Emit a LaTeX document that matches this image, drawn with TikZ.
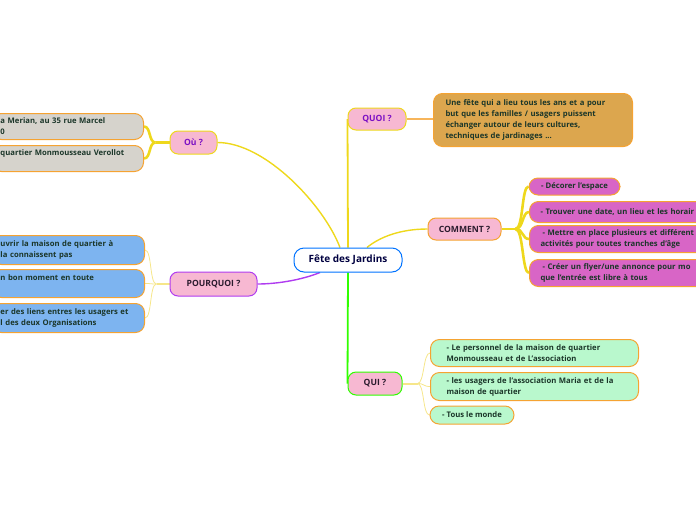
\documentclass[tikz,border=0pt]{standalone}
\usepackage{fontspec}
\setmainfont{Open Sans}
\definecolor{pinkbox}{HTML}{F7B8D2}
\definecolor{leafline}{HTML}{F5A332}
\definecolor{leaftext}{HTML}{1B3629}
\definecolor{branchyellow}{HTML}{EED81C}
\definecolor{paleyellow}{HTML}{F6E68A}
\definecolor{topicpurple}{HTML}{7B10C4}
\definecolor{topicdark}{HTML}{2B1B2E}
\definecolor{quoifill}{HTML}{DCA64E}
\definecolor{commentfill}{HTML}{D865C6}
\definecolor{quifill}{HTML}{B9F8CD}
\definecolor{oufill}{HTML}{D6D3CC}
\definecolor{pourquoifill}{HTML}{7DB4F0}
\definecolor{pourquoiline}{HTML}{B03CF0}
\pgfdeclarelayer{bg}
\pgfsetlayers{bg,main}
\begin{document}
\begin{tikzpicture}[x=1pt,y=-1pt,
    centre/.style={draw=blue!55!cyan, line width=1pt, fill=white, rounded corners=10pt,
        minimum width=108pt, minimum height=24pt, inner sep=0pt, text=blue!25!black,
        font=\fontsize{10}{12}\selectfont\bfseries},
    topic/.style={fill=pinkbox, line width=1pt, rounded corners=8pt, inner sep=0pt,
        font=\fontsize{8.6}{10}\selectfont\bfseries},
    leaf/.style={draw=leafline, line width=1pt, rounded corners=9pt, inner ysep=0pt,
        text=leaftext, font=\fontsize{7.7}{11}\selectfont\bfseries},
    multi/.style={leaf, anchor=north west, align=left},
    thickbranch/.style={branchyellow, line width=2.6pt},
    thinbranch/.style={paleyellow, line width=0.8pt}]
\useasboundingbox (0,0) rectangle (696,520);

\node[centre] (fete) at (348,260) {Fête des Jardins};

\node[topic, draw=branchyellow, text=topicpurple, minimum width=58pt, minimum height=22pt] (quoi) at (377,119) {QUOI ?};
\node[topic, draw=leafline, text=topicdark, minimum width=73pt, minimum height=22pt] (comment) at (464.5,229) {COMMENT ?};
\node[topic, draw=green!75!lime, text=topicdark, minimum width=54pt, minimum height=23pt] (qui) at (375,383.5) {QUI ?};
\node[topic, draw=branchyellow, text=topicpurple, minimum width=47pt, minimum height=23pt] (ou) at (193.5,142.5) {Où ?};
\node[topic, draw=pourquoiline, text=topicdark, minimum width=87pt, minimum height=24pt] (pourquoi) at (213.5,284) {POURQUOI ?};

% QUOI
\node[multi, fill=quoifill, inner xsep=12pt, text width=175pt, minimum height=53pt] (q0) at (433,93)
    {Une fête qui a lieu tous les ans et a pour\\but que les familles / usagers puissent\\échanger autour de leurs cultures,\\techniques de jardinages ...};

% COMMENT
\node[leaf, fill=commentfill, minimum width=91pt, minimum height=17pt] (c1) at (574.5,186.5) {- Décorer l'espace};
\node[multi, fill=commentfill, inner xsep=11pt, text width=200pt, minimum height=21pt] (c2) at (529,201)
    {- Trouver une date, un lieu et les horair};
\node[multi, fill=commentfill, inner xsep=11pt, text width=200pt, minimum height=27pt] (c3) at (529,225)
    {\hspace*{2pt}- Mettre en place plusieurs et différent\\activités pour toutes tranches d'âge};
\node[multi, fill=commentfill, inner xsep=11pt, text width=200pt, minimum height=27pt] (c4) at (529,259)
    {\hspace*{2pt}- Créer un flyer/une annonce pour mo\\que l'entrée est libre à tous};

% QUI
\node[multi, fill=quifill, inner xsep=16pt, text width=176pt, minimum height=27pt] (k1) at (430,339)
    {- Le personnel de la maison de quartier\\Monmousseau et de L'association};
\node[multi, fill=quifill, inner xsep=16pt, text width=176pt, minimum height=28pt] (k2) at (430,372)
    {- les usagers de l'association Maria et de la\\maison de quartier};
\node[leaf, fill=quifill, minimum width=84pt, minimum height=18pt] (k3) at (472,415) {- Tous le monde};

% OU
\node[multi, fill=oufill, inner xsep=8pt, text width=135pt, minimum height=26pt] (o1) at (-8,113)
    {a Merian, au 35 rue Marcel\\0};
\node[multi, fill=oufill, inner xsep=8pt, text width=135pt, minimum height=26pt] (o2) at (-8,145)
    {quartier Monmousseau Verollot\\\phantom{x}};

% POURQUOI
\node[multi, fill=pourquoifill, inner xsep=8pt, text width=136pt, minimum height=29pt] (p1) at (-8,235)
    {uvrir la maison de quartier à\\la connaissent pas};
\node[multi, fill=pourquoifill, inner xsep=8pt, text width=136pt, minimum height=28pt] (p2) at (-8,269)
    {n bon moment en toute\\\phantom{x}};
\node[multi, fill=pourquoifill, inner xsep=8pt, text width=136pt, minimum height=29pt] (p3) at (-8,303)
    {er des liens entres les usagers et\\l des deux Organisations};

\begin{pgfonlayer}{bg}
% main branches
\draw[branchyellow, line width=1.8pt] (fete.north) -- (quoi.west);
\draw[green!75!lime, line width=1.8pt] (fete.south) -- (qui.west);
\draw[branchyellow, line width=1.4pt] ([xshift=-8pt]fete.north) .. controls +(-16,-42) and +(48,0) .. (ou.east);
\draw[branchyellow, line width=1.4pt] ([xshift=19pt]fete.north) .. controls +(12,-10) and +(-28,0) .. (comment.west);
\draw[pourquoiline, line width=1.4pt] ([xshift=-28pt]fete.south) .. controls +(-20,8) and +(18,0) .. (pourquoi.east);

\draw[leafline!80!white, line width=2pt] (quoi.east) -- (q0.west |- quoi.east);

% sub branches
\draw[thickbranch] (comment.east) -- ++(14,0) coordinate (cj);
\foreach \n in {c1,c2,c3,c4}
    \draw[thickbranch] (cj) .. controls +(8,0) and +(-7,0) .. (\n.west);

\draw[paleyellow, line width=2pt] (qui.east) -- ++(15,0) coordinate (kj);
\foreach \n in {k1,k2,k3}
    \draw[thinbranch] (kj) .. controls +(7,0) and +(-7,0) .. (\n.west);

\draw[thickbranch] (ou.west) -- ++(-14,0) coordinate (oj);
\foreach \n in {o1,o2}
    \draw[thickbranch] (oj) .. controls +(-7,0) and +(7,0) .. (\n.east);

\draw[paleyellow, line width=2pt] (pourquoi.west) -- ++(-13,0) coordinate (pj);
\foreach \n in {p1,p2,p3}
    \draw[thinbranch] (pj) .. controls +(-7,0) and +(7,0) .. (\n.east);
\end{pgfonlayer}
\end{tikzpicture}
\end{document}
